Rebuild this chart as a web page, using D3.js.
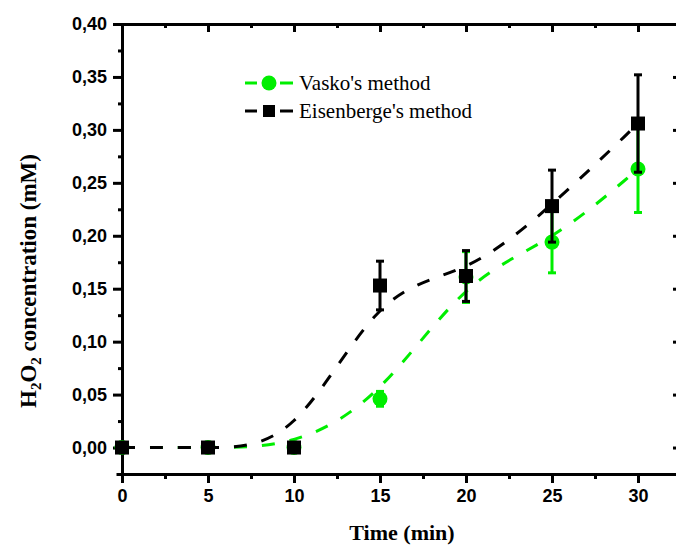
<!DOCTYPE html>
<html>
<head>
    <meta charset="utf-8">
    <title>H2O2 concentration</title>
    <script src="https://d3js.org/d3.v7.min.js"></script>
    <style>
        html, body {
            margin: 0;
            background: white;
            overflow: hidden;
        }
        .tick text {
            font-family: "Liberation Sans", Arial, sans-serif;
            font-weight: bold;
            font-size: 18px;
        }
    </style>
</head>
<body>
    <svg id="svg"></svg>
    <script>
        // data
        const times = [0, 5, 10, 15, 20, 25, 30];
        const vasko = [0, 0, 0, 0.046, 0.161, 0.194, 0.263];
        const vaskoErr = [0, 0, 0, 0.007, 0.024, 0.029, 0.041];
        const eisen = [0, 0, 0, 0.153, 0.162, 0.228, 0.306];
        const eisenErr = [0, 0, 0, 0.023, 0.024, 0.034, 0.046];
        const xTicks = [0, 5, 10, 15, 20, 25, 30];
        const yTicks = [0, 0.05, 0.10, 0.15, 0.20, 0.25, 0.30, 0.35, 0.40];
        const seriesNames = ["Vasko's method", "Eisenberge's method"];

        const width = 676, height = 546;
        const margins = { top: 24, left: 122, right: -5, bottom: 72 };

        const svg = d3.select("#svg")
            .attr("width", width)
            .attr("height", height);

        const x = d3.scaleLinear()
            .domain([0, 32.5])
            .range([margins.left, width - margins.right]);

        const y = d3.scaleLinear()
            .domain([-0.025, 0.40])
            .range([height - margins.bottom, margins.top]);

        const fmt = d => d3.format(".2f")(d).replace(".", ",");
        const xMinor = d3.range(2.5, 32.5, 5);
        const yMinor = d3.range(-0.025, 0.4, 0.05);

        function styleAxis(g) {
            g.select(".domain").attr("stroke-width", 3);
            g.selectAll(".tick line").attr("stroke-width", 3);
        }

        // minor ticks
        svg.append("g")
            .attr("transform", `translate(0, ${y.range()[0]})`)
            .call(d3.axisBottom(x).tickValues(xMinor).tickSize(5).tickFormat(""))
            .call(styleAxis);
        svg.append("g")
            .attr("transform", `translate(0, ${y.range()[1]})`)
            .call(d3.axisTop(x).tickValues(xMinor).tickSize(-4).tickFormat(""))
            .call(styleAxis);
        svg.append("g")
            .attr("transform", `translate(${x.range()[0]}, 0)`)
            .call(d3.axisLeft(y).tickValues(yMinor).tickSize(4).tickFormat(""))
            .call(styleAxis);
        svg.append("g")
            .attr("transform", `translate(${x.range()[1]}, 0)`)
            .call(d3.axisRight(y).tickValues(yMinor).tickSize(-4).tickFormat(""))
            .call(styleAxis);

        // major ticks
        svg.append("g")
            .attr("transform", `translate(0, ${y.range()[0]})`)
            .call(d3.axisBottom(x).tickValues(xTicks).tickSize(9).tickSizeOuter(0).tickPadding(6).tickFormat(d3.format("d")))
            .call(styleAxis);
        svg.append("g")
            .attr("transform", `translate(0, ${y.range()[1]})`)
            .call(d3.axisTop(x).tickValues(xTicks).tickSize(-8).tickSizeOuter(0).tickFormat(""))
            .call(styleAxis);
        svg.append("g")
            .attr("transform", `translate(${x.range()[0]}, 0)`)
            .call(d3.axisLeft(y).tickValues(yTicks).tickSize(9).tickSizeOuter(0).tickPadding(6).tickFormat(fmt))
            .call(styleAxis);
        svg.append("g")
            .attr("transform", `translate(${x.range()[1]}, 0)`)
            .call(d3.axisRight(y).tickValues(yTicks).tickSize(-8).tickSizeOuter(0).tickFormat(""))
            .call(styleAxis);

        svg.selectAll(".domain").attr("stroke-linecap", "square");

        // axis titles
        svg.append("text")
            .attr("x", 402)
            .attr("y", 540)
            .attr("text-anchor", "middle")
            .style("font-family", "'Liberation Serif', 'Times New Roman', serif")
            .style("font-weight", "bold")
            .style("font-size", "22px")
            .text("Time (min)");

        const yTitle = svg.append("text")
            .attr("transform", "translate(36, 281) rotate(-90)")
            .attr("text-anchor", "middle")
            .style("font-family", "'Liberation Serif', 'Times New Roman', serif")
            .style("font-weight", "bold")
            .style("font-size", "23px");
        yTitle.append("tspan").text("H");
        yTitle.append("tspan").attr("dy", 5).style("font-size", "15px").text("2");
        yTitle.append("tspan").attr("dy", -5).text("O");
        yTitle.append("tspan").attr("dy", 5).style("font-size", "15px").text("2");
        yTitle.append("tspan").attr("dy", -5).text(" concentration (mM)");

        // series
        const series = [
            { name: seriesNames[0], values: vasko, errs: vaskoErr, color: "#00ee00", shape: "circle" },
            { name: seriesNames[1], values: eisen, errs: eisenErr, color: "#000000", shape: "square" }
        ];

        const line = d3.line()
            .curve(d3.curveBasis)
            .x(d => x(d[0]))
            .y(d => y(d[1]));

        series.forEach(s => {
            const pts = times.map((t, i) => [t, s.values[i], s.errs[i]]);
            const g = svg.append("g");

            g.append("path")
                .attr("d", line(pts))
                .attr("fill", "none")
                .attr("stroke", s.color)
                .attr("stroke-width", 3)
                .attr("stroke-dasharray", "13,15");

            const eb = g.selectAll(".err")
                .data(pts.filter(d => d[2] > 0))
                .enter()
                .append("g")
                .attr("stroke", s.color)
                .attr("stroke-width", 3);
            eb.append("line")
                .attr("x1", d => x(d[0])).attr("x2", d => x(d[0]))
                .attr("y1", d => y(d[1] - d[2])).attr("y2", d => y(d[1] + d[2]));
            eb.append("line")
                .attr("x1", d => x(d[0]) - 4).attr("x2", d => x(d[0]) + 4)
                .attr("y1", d => y(d[1] + d[2])).attr("y2", d => y(d[1] + d[2]));
            eb.append("line")
                .attr("x1", d => x(d[0]) - 4).attr("x2", d => x(d[0]) + 4)
                .attr("y1", d => y(d[1] - d[2])).attr("y2", d => y(d[1] - d[2]));

            if (s.shape === "circle") {
                g.selectAll(".pt")
                    .data(pts)
                    .enter()
                    .append("circle")
                    .attr("cx", d => x(d[0]))
                    .attr("cy", d => y(d[1]))
                    .attr("r", 7.5)
                    .attr("fill", s.color);
            } else {
                g.selectAll(".pt")
                    .data(pts)
                    .enter()
                    .append("rect")
                    .attr("x", d => x(d[0]) - 7)
                    .attr("y", d => y(d[1]) - 7)
                    .attr("width", 14)
                    .attr("height", 14)
                    .attr("fill", s.color);
            }
        });

        // legend
        const legend = svg.append("g").attr("transform", "translate(245, 83)");
        series.forEach((s, i) => {
            const row = legend.append("g").attr("transform", `translate(0, ${i * 28})`);
            row.append("line")
                .attr("x1", 0).attr("x2", 12)
                .attr("stroke", s.color).attr("stroke-width", 3);
            row.append("line")
                .attr("x1", 35).attr("x2", 48)
                .attr("stroke", s.color).attr("stroke-width", 3);
            if (s.shape === "circle") {
                row.append("circle").attr("cx", 24).attr("r", 7.5).attr("fill", s.color);
            } else {
                row.append("rect").attr("x", 18).attr("y", -6).attr("width", 12).attr("height", 12).attr("fill", s.color);
            }
            row.append("text")
                .attr("x", 54)
                .attr("y", 7)
                .style("font-family", "'Liberation Serif', 'Times New Roman', serif")
                .style("font-size", "21px")
                .text(s.name);
        });
    </script>
</body>
</html>
